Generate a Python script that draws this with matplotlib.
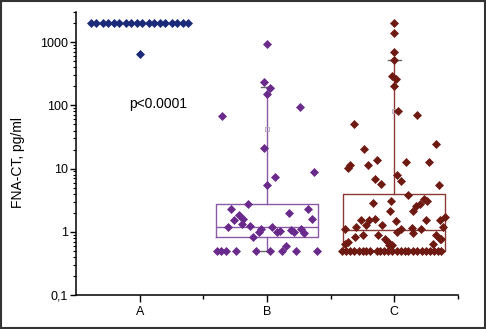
import matplotlib
matplotlib.use("Agg")
import matplotlib.pyplot as plt
from matplotlib.patches import Rectangle
from matplotlib.ticker import FixedLocator, NullFormatter, LogLocator

plt.rcParams['font.family'] = ['Liberation Sans', 'DejaVu Sans']

categories = ["A", "B", "C"]
ytick_values = [0.1, 1, 10, 100, 1000]
ytick_labels = ["0,1", "1", "10", "100", "1000"]
p_text = "p<0.0001"
ylabel = "FNA-CT, pg/ml"

# group A: jitter offsets and values
a_off = [-0.38, -0.34, -0.29, -0.25, -0.20, -0.16, -0.11, -0.07, -0.02,
         0.02, 0.07, 0.11, 0.16, 0.20, 0.25, 0.29, 0.34, 0.38, 0.0]
a_val = [2000] * 18 + [650]

# group B
b_off = [0.0, -0.024, 0.024, 0.0, 0.26, -0.35, -0.02, 0.065, 0.0, 0.37,
         -0.15, -0.28, 0.17, 0.32, 0.35, -0.26, -0.22, -0.19, -0.20, -0.31,
         -0.13, 0.04, -0.05, -0.065, -0.11, 0.10, 0.08, 0.19, 0.21, 0.27, 0.29,
         -0.39, -0.36, -0.32, -0.24, -0.09, 0.02, 0.12, 0.15, 0.23, 0.39]
b_val = [921, 233, 190, 149, 93, 67, 21.4, 7.3, 5.4, 8.7,
         2.75, 2.29, 1.98, 2.29, 1.59, 1.56, 1.82, 1.62, 1.35, 1.19,
         1.22, 1.19, 1.10, 1.0, 0.83, 1.02, 1.0, 1.05, 0.99, 1.10, 0.96,
         0.5, 0.5, 0.5, 0.5, 0.5, 0.5, 0.5, 0.59, 0.5, 0.5]

# group C
c_off = [0.0, 0.0, 0.0, 0.0, -0.02, 0.015, 0.0, 0.025, 0.18, -0.32,
         -0.24, 0.33, -0.14, -0.21, -0.35, -0.36, 0.09, 0.27, -0.155, -0.105,
         0.02, 0.05, 0.35,
         -0.17, -0.03, 0.11, 0.17, 0.20, 0.23, 0.26, -0.035, 0.15, -0.26,
         -0.20, -0.15, -0.22, -0.30, 0.01, -0.10, 0.25, 0.36, 0.40, 0.38,
         -0.39, 0.02, 0.055, 0.135, 0.21, -0.31, -0.36, -0.245, -0.13, -0.075,
         -0.05, -0.02, 0.33, 0.36, 0.30, -0.39, 0.15, -0.04, 0.37,
         -0.41, -0.38, -0.35, -0.32, -0.28, -0.25, -0.22, -0.19, -0.14, -0.11,
         -0.08, -0.05, -0.02, 0.02, 0.05, 0.08, 0.11, 0.15, 0.18, 0.22,
         0.25, 0.28, 0.31, 0.34, 0.37]
c_val = [2000, 1410, 706, 528, 295, 258, 200, 81, 70, 50,
         20.4, 24.2, 13.8, 11.5, 11.5, 10.4, 12.7, 12.7, 6.9, 5.8,
         7.8, 6.4, 5.4,
         2.9, 3.07, 3.78, 2.56, 2.79, 3.35, 3.07, 2.13, 2.13, 1.52,
         1.56, 1.62, 1.27, 1.19, 1.47, 1.27, 1.52, 1.52, 1.71, 1.19,
         1.12, 1.0, 1.1, 1.15, 1.12, 0.83, 0.69, 0.9, 0.9, 0.78,
         0.69, 0.61, 0.88, 0.78, 0.65, 0.65, 0.94, 0.61, 0.78,
         0.5, 0.5, 0.5, 0.5, 0.5, 0.5, 0.5, 0.5, 0.5, 0.5,
         0.5, 0.5, 0.5, 0.5, 0.5, 0.5, 0.5, 0.5, 0.5, 0.5,
         0.5, 0.5, 0.5, 0.5, 0.5]

# box statistics for B and C
box_stats = {
    "B": dict(q1=0.83, med=1.18, q3=2.79, whislo=0.5, whishi=192, mean=43),
    "C": dict(q1=0.5, med=1.08, q3=3.92, whislo=0.5, whishi=528, mean=81),
}

colors = {"A": "#1b2a78", "B": "#6a2a8c", "C": "#6e1a12"}
box_colors = {"B": "#8a5aa6", "C": "#8a3a34"}

fig = plt.figure(figsize=(4.86, 3.29), dpi=100)
ax = fig.add_axes([76 / 486, 1 - 295 / 329, 382 / 486, 283 / 329])

ax.set_yscale("log")
ax.set_ylim(0.1, 3000)
ax.set_xlim(0.5, 3.5)

for i, key in enumerate(categories):
    pos = i + 1
    if key in box_stats:
        st = dict(box_stats[key])
        st["fliers"] = []
        ax.bxp([st], positions=[pos], widths=0.8, showmeans=True,
               showfliers=False, capwidths=0.1,
               boxprops=dict(color=box_colors[key], linewidth=1.0),
               medianprops=dict(color=box_colors[key], linewidth=1.0),
               whiskerprops=dict(color=box_colors[key], linewidth=1.0),
               capprops=dict(color="#666666", linewidth=1.0),
               meanprops=dict(marker="s", markersize=3, markerfacecolor="none",
                              markeredgecolor="#b0a0b8", markeredgewidth=0.6),
               manage_ticks=False, zorder=1)

offs = {"A": a_off, "B": b_off, "C": c_off}
vals = {"A": a_val, "B": b_val, "C": c_val}
for i, key in enumerate(categories):
    xs = [i + 1 + o for o in offs[key]]
    ax.plot(xs, vals[key], linestyle="none", marker="D", markersize=4.0,
            color=colors[key], markeredgecolor=colors[key],
            markeredgewidth=0.5, zorder=3)

ax.text(1.143, 105, p_text, fontsize=10, ha="center", va="center")

ax.spines["top"].set_visible(False)
ax.spines["right"].set_visible(False)
for s in ("left", "bottom"):
    ax.spines[s].set_linewidth(1.1)

ax.yaxis.set_major_locator(FixedLocator(ytick_values))
ax.set_yticklabels(ytick_labels)
ax.yaxis.set_minor_locator(LogLocator(base=10, subs=range(2, 10)))
ax.yaxis.set_minor_formatter(NullFormatter())
ax.tick_params(axis="y", which="major", length=4, width=1, labelsize=9, pad=2)
ax.tick_params(axis="y", which="minor", length=2, width=0.8)

ax.set_xticks([1, 2, 3])
ax.set_xticklabels(categories)
ax.xaxis.set_minor_locator(FixedLocator([1.5, 2.5, 3.5]))
ax.tick_params(axis="x", which="major", length=5, width=1, labelsize=9, pad=3)
ax.tick_params(axis="x", which="minor", length=3, width=1)

ax.set_ylabel(ylabel, fontsize=10)
ax.yaxis.set_label_coords(-0.134, 0.468)

fig.patches.append(Rectangle((0.002, 0.003), 0.995, 0.994, transform=fig.transFigure,
                             fill=False, edgecolor="#333333", linewidth=1.5))

fig.savefig("out.png", dpi=100)
